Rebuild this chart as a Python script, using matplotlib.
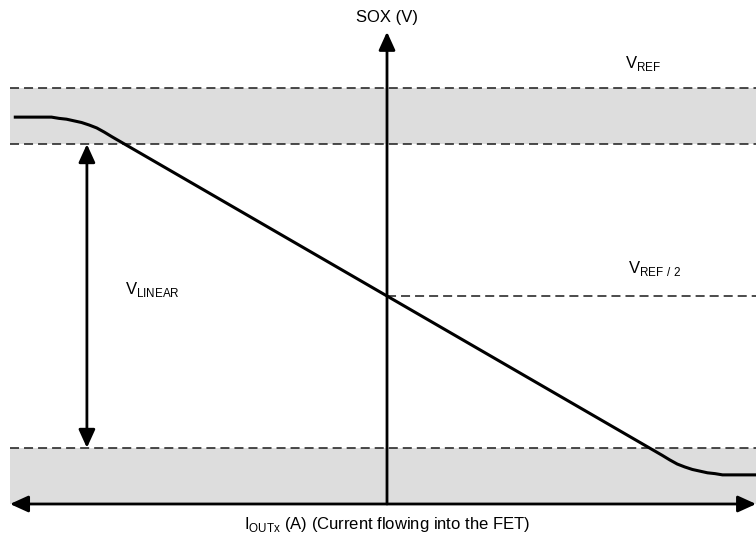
import matplotlib
matplotlib.use('Agg')
import matplotlib.pyplot as plt

plt.rcParams['font.family'] = ['Liberation Sans', 'DejaVu Sans']
plt.rcParams['mathtext.fontset'] = 'custom'
plt.rcParams['mathtext.rm'] = 'Liberation Sans'
plt.rcParams['lines.scale_dashes'] = False

# transfer curve: current (normalised) vs SOX voltage (in units of VREF)
curve_i = [-0.99, -0.89, -0.87, -0.85, -0.83, -0.81, -0.79, -0.77, -0.75, -0.73,
           0.73, 0.75, 0.77, 0.79, 0.81, 0.83, 0.85, 0.87, 0.89, 0.98]
curve_v = [0.93, 0.93, 0.927, 0.925, 0.921, 0.917, 0.911, 0.904, 0.894, 0.883,
           0.117, 0.106, 0.096, 0.089, 0.083, 0.079, 0.075, 0.073, 0.07, 0.07]

# voltage levels
v_ref = 1.0
v_half = 0.5
v_lin_hi = 0.865
v_lin_lo = 0.135
v_zero = 0.0

i_left = -1.0
i_right = 0.979
i_vlinear = -0.796

fig = plt.figure(figsize=(7.56, 5.35), dpi=100)
ax = fig.add_axes([0, 0, 1, 1])
ax.set_xlim(-387 / 377, 369 / 377)
ax.set_ylim(0.5 - 239 / 416, 0.5 + 296 / 416)
ax.axis('off')

gray = '#dddddd'
ax.fill_between([i_left, i_right], v_lin_hi, v_ref, color=gray, lw=0, zorder=0)
ax.fill_between([i_left, i_right], v_zero, v_lin_lo, color=gray, lw=0, zorder=0)

dash = (0, (6.5, 3.6))
for v in [v_ref, v_lin_hi, v_lin_lo]:
    ax.plot([i_left, i_right], [v, v], color='#1a1a1a', lw=1.1, ls=dash, zorder=1)
ax.plot([0, i_right], [v_half, v_half], color='#1a1a1a', lw=1.1, ls=dash, zorder=1)

# the curve
ax.plot(curve_i, curve_v, color='black', lw=2.2, solid_capstyle='butt',
        solid_joinstyle='round', zorder=3)

# axes arrows
head = dict(color='black', lw=2, shrinkA=0, shrinkB=0)
ax.annotate('', xy=(0, 1.135), xytext=(0, v_zero),
            arrowprops=dict(arrowstyle='-|>,head_length=1.1,head_width=0.5', **head), zorder=4)
ax.annotate('', xy=(i_right, v_zero), xytext=(i_left, v_zero),
            arrowprops=dict(arrowstyle='<|-|>,head_length=1.1,head_width=0.5', **head), zorder=4)
ax.annotate('', xy=(i_vlinear, v_lin_lo), xytext=(i_vlinear, v_lin_hi),
            arrowprops=dict(arrowstyle='<|-|>,head_length=1.1,head_width=0.5', **head), zorder=4)

fs = 12
ax.text(0, 1.17, 'SOX (V)', ha='center', va='center', fontsize=fs)
ax.text(0.68, 1.06, r'V$_{\mathregular{REF}}$', ha='center', va='center', fontsize=fs)
ax.text(0.71, 0.565, r'V$_{\mathregular{REF\ /\ 2}}$', ha='center', va='center', fontsize=fs)
ax.text(-0.695, 0.515, r'V$_{\mathregular{LINEAR}}$', ha='left', va='center', fontsize=fs)
ax.text(0.0, -0.05, r'I$_{\mathregular{OUTx}}$ (A) (Current flowing into the FET)', ha='center', va='center', fontsize=fs)

fig.savefig('out.png', dpi=100)
